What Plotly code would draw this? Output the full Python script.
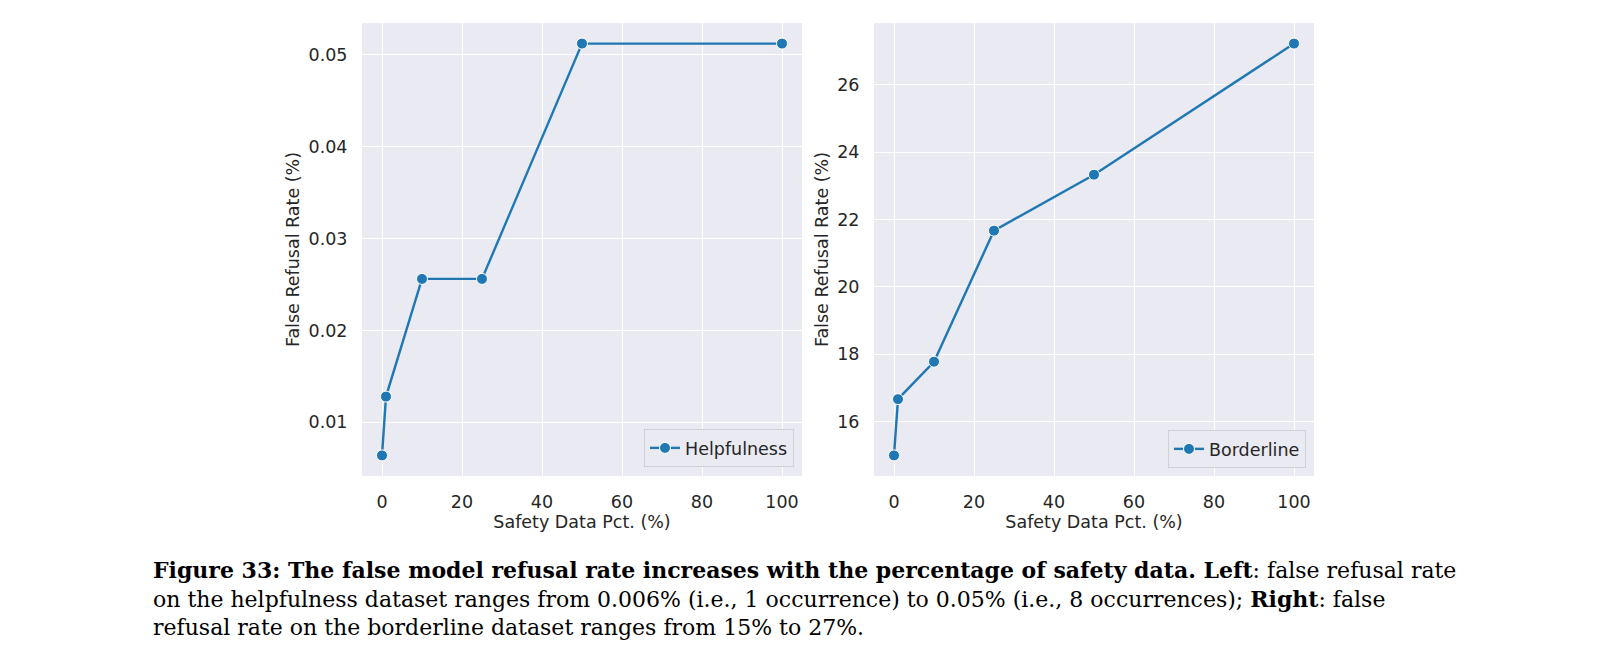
import plotly.graph_objects as go

safety_pct = [0, 1, 10, 25, 50, 100]
helpfulness_frr = [0.0064, 0.0128, 0.0256, 0.0256, 0.0512, 0.0512]
borderline_frr = [15.0, 16.67, 17.78, 21.67, 23.33, 27.22]
left_yticks = [0.01, 0.02, 0.03, 0.04, 0.05]
right_yticks = [16, 18, 20, 22, 24, 26]
x_ticks = [0, 20, 40, 60, 80, 100]

caption_lines = [
    "<b>Figure 33: The false model refusal rate increases with the percentage of safety data. Left</b>: false refusal rate",
    "on the helpfulness dataset ranges from 0.006% (i.e., 1 occurrence) to 0.05% (i.e., 8 occurrences); <b>Right</b>: false",
    "refusal rate on the borderline dataset ranges from 15% to 27%.",
]

# the page body keeps its default 8px margin, so the figure is shrunk by that much
OFF = 8
PAGE_W, PAGE_H = 1600, 661
W, H = PAGE_W - OFF, PAGE_H - OFF
BLUE = "#1f77b4"
TEXT = "#262626"
BG = "#EAEAF2"
FS = 17.5


def padded(vals, frac=0.05):
    lo, hi = min(vals), max(vals)
    pad = (hi - lo) * frac
    return [lo - pad, hi + pad]


def px_x(p):
    return (p - OFF) / W


def px_y(p):
    return (PAGE_H - p) / H


def line_trace(y, name, xaxis, yaxis, legend):
    return go.Scatter(x=safety_pct, y=y, name=name, mode="lines+markers",
                      xaxis=xaxis, yaxis=yaxis, legend=legend, showlegend=True,
                      line=dict(color=BLUE, width=2.4),
                      marker=dict(size=11, color=BLUE, line=dict(color="white", width=1)))


fig = go.Figure()
fig.add_trace(line_trace(helpfulness_frr, "Helpfulness", "x", "y", "legend"))
fig.add_trace(line_trace(borderline_frr, "Borderline", "x2", "y2", "legend2"))

axis_common = dict(showgrid=True, gridcolor="white", gridwidth=1.3, zeroline=False,
                   showline=False, ticks="outside", ticklen=10, tickcolor="rgba(0,0,0,0)",
                   tickfont=dict(size=FS, color=TEXT),
                   title_font=dict(size=FS, color=TEXT))

legend_common = dict(xanchor="right", yanchor="bottom", bgcolor=BG,
                     bordercolor="#D0D0D6", borderwidth=1,
                     font=dict(size=FS, color=TEXT))

y_dom = [px_y(476), px_y(23)]
fig.update_layout(
    width=W, height=H,
    margin=dict(l=0, r=0, t=0, b=0),
    showlegend=True,
    paper_bgcolor="white", plot_bgcolor=BG,
    font=dict(family="DejaVu Sans", color=TEXT),
    xaxis=dict(domain=[px_x(362), px_x(802)], range=padded(safety_pct), tickvals=x_ticks,
               anchor="y", title=dict(text="Safety Data Pct. (%)", standoff=3), **axis_common),
    yaxis=dict(domain=y_dom, range=padded(helpfulness_frr), tickvals=left_yticks, tickformat=".2f",
               anchor="x", title=dict(text="False Refusal Rate (%)", standoff=4), **axis_common),
    xaxis2=dict(domain=[px_x(874), px_x(1314)], range=padded(safety_pct), tickvals=x_ticks,
                anchor="y2", title=dict(text="Safety Data Pct. (%)", standoff=3), **axis_common),
    yaxis2=dict(domain=y_dom, range=padded(borderline_frr), tickvals=right_yticks,
                anchor="x2", title=dict(text="False Refusal Rate (%)", standoff=4), **axis_common),
    legend=dict(x=px_x(794), y=px_y(467), **legend_common),
    legend2=dict(x=px_x(1306), y=px_y(468), **legend_common),
)

caption_centers = [570, 599, 627]
for text, cy in zip(caption_lines, caption_centers):
    fig.add_annotation(text=text, xref="paper", yref="paper", x=px_x(151), y=px_y(cy),
                       xanchor="left", yanchor="middle", showarrow=False, align="left",
                       font=dict(family="DejaVu Serif", size=22, color="black"))

fig.write_html("out.html")
